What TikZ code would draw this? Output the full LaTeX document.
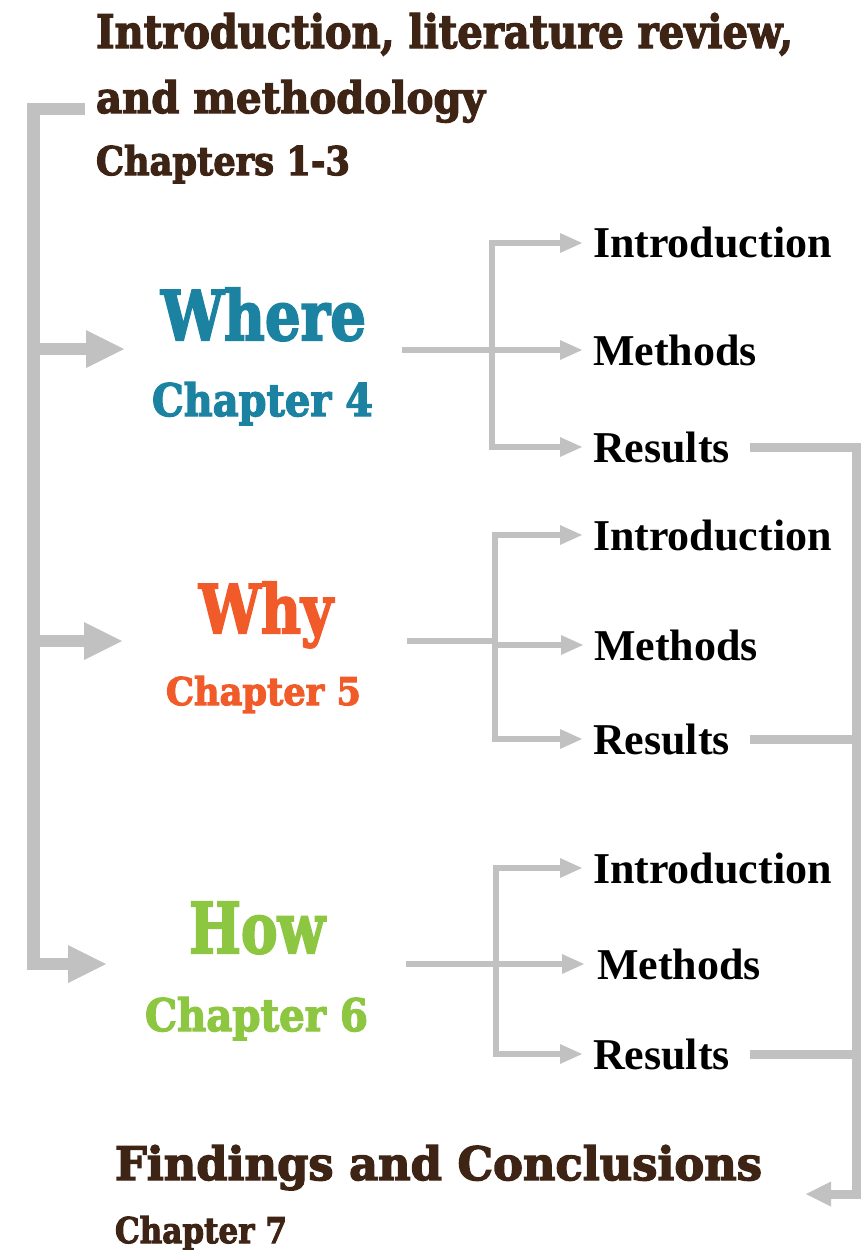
\documentclass[tikz,border=0pt]{standalone}
\usepackage{fontspec}
\usepackage{graphicx}
\setmainfont{Liberation Serif}
\newfontfamily\heavyfont{DejaVu Serif}[BoldFeatures={FakeBold=3}]
\usetikzlibrary{arrows.meta}
\definecolor{cbrown}{RGB}{62,36,21}
\definecolor{cwhere}{RGB}{27,131,161}
\definecolor{cwhy}{RGB}{241,90,41}
\definecolor{chow}{RGB}{141,198,65}
\definecolor{cgray}{RGB}{193,193,193}
\newcommand\fitt[3]{\resizebox{#1pt}{#2pt}{\heavyfont\bfseries\fontsize{40}{48}\selectfont #3}}
\tikzset{
  heavytxt/.style={anchor=base west, inner sep=0pt, outer sep=0pt},
  subtxt/.style={anchor=west, inner sep=0pt, outer sep=0pt, text=black, font=\bfseries\fontsize{44}{50}\selectfont},
  bigarrow/.style={draw=cgray, line width=12.5pt, -{Triangle[length=38pt,width=38pt,line width=0pt]}},
  thinarrow/.style={draw=cgray, line width=6pt, -{Triangle[length=22pt,width=20pt,line width=0pt]}},
  thinline/.style={draw=cgray, line width=6pt},
  rline/.style={draw=cgray, line width=9pt},
  endarrow/.style={draw=cgray, line width=9pt, -{Triangle[length=25pt,width=25pt,line width=0pt]}},
}
\begin{document}
\begin{tikzpicture}[x=1pt,y=-1pt]
\useasboundingbox (0,0) rectangle (865,1250);
\fill[white] (0,0) rectangle (865,1250);

% ---------- heavy titles ----------
\node[heavytxt,text=cbrown] (t1) at (96,48) {\fitt{697}{35}{Introduction, literature review,}};
\node[heavytxt,text=cbrown] (t2) at (96,113) {\fitt{389}{33}{and methodology}};
\node[heavytxt,text=cbrown] (t3) at (96,175) {\fitt{254}{30}{Chapters 1-3}};

\node[heavytxt,text=cwhere] (where) at (161,340) {\fitt{205}{52}{Where}};
\node[heavytxt,text=cwhere] (ch4) at (152,416) {\fitt{221}{34}{Chapter 4}};

\node[heavytxt,text=cwhy] (why) at (199,633) {\fitt{134}{51}{Why}};
\node[heavytxt,text=cwhy] (ch5) at (166,705) {\fitt{195}{29}{Chapter 5}};

\node[heavytxt,text=chow] (how) at (189,953) {\fitt{136}{51}{How}};
\node[heavytxt,text=chow] (ch6) at (145,1031) {\fitt{223}{34}{Chapter 6}};

\node[heavytxt,text=cbrown] (f1) at (115,1180) {\fitt{647}{35}{Findings and Conclusions}};
\node[heavytxt,text=cbrown] (f2) at (115,1243) {\fitt{172}{27}{Chapter 7}};

% ---------- sub items ----------
\node[subtxt] (iW) at (593,243) {Introduction};
\node[subtxt] (mW) at (593,350) {Methods};
\node[subtxt] (rW) at (593,447) {Results};

\node[subtxt] (iY) at (593,535) {Introduction};
\node[subtxt] (mY) at (594,645) {Methods};
\node[subtxt] (rY) at (593,739) {Results};

\node[subtxt] (iH) at (593,868) {Introduction};
\node[subtxt] (mH) at (597,964) {Methods};
\node[subtxt] (rH) at (593,1054) {Results};

% ---------- left trunk ----------
\coordinate (topstub) at (85,109);
\coordinate (barTop) at (33.5,109);
\coordinate (barBot) at (33.5,964);
\coordinate (tipHow) at (106,964);
\coordinate (jWhere) at (33.5,349);
\coordinate (tipWhere) at (124,349);
\coordinate (jWhy) at (33.5,641);
\coordinate (tipWhy) at (122,641);
\draw[bigarrow] (topstub) -- (barTop) -- (barBot) -- (tipHow);
\draw[bigarrow] (jWhere) -- (tipWhere);
\draw[bigarrow] (jWhy) -- (tipWhy);

% ---------- branches ----------
\coordinate (inW) at (402,350);
\coordinate (brW) at (492,350);
\draw[thinline] (inW) -- (brW);
\draw[thinarrow] (brW) |- ([xshift=-11pt]iW.west);
\draw[thinarrow] (brW) -- ([xshift=-11pt]mW.west);
\draw[thinarrow] (brW) |- ([xshift=-11pt]rW.west);

\coordinate (inY) at (407,641);
\coordinate (brY) at (495,641);
\draw[thinline] (inY) -- (brY);
\draw[thinarrow] (brY) |- ([xshift=-11pt]iY.west);
\draw[thinarrow] (brY |- mY.west) -- ([xshift=-11pt]mY.west);
\draw[thinarrow] (brY) |- ([xshift=-11pt]rY.west);

\coordinate (inH) at (406,964);
\coordinate (brH) at (496,964);
\draw[thinline] (inH) -- (brH);
\draw[thinarrow] (brH) |- ([xshift=-11pt]iH.west);
\draw[thinarrow] (brH) -- ([xshift=-13pt]mH.west);
\draw[thinarrow] (brH) |- ([xshift=-11pt]rH.west);

% ---------- right collector ----------
\coordinate (cornerTop) at (856,447);
\coordinate (cornerBot) at (856,1194);
\coordinate (tipEnd) at (806,1194);
\draw[endarrow] ([xshift=20pt]rW.east) -- (cornerTop) -- (cornerBot) -- (tipEnd);
\draw[rline] ([xshift=20pt]rY.east) -- (rY.east -| cornerTop);
\draw[rline] ([xshift=20pt]rH.east) -- (rH.east -| cornerTop);
\end{tikzpicture}
\end{document}
